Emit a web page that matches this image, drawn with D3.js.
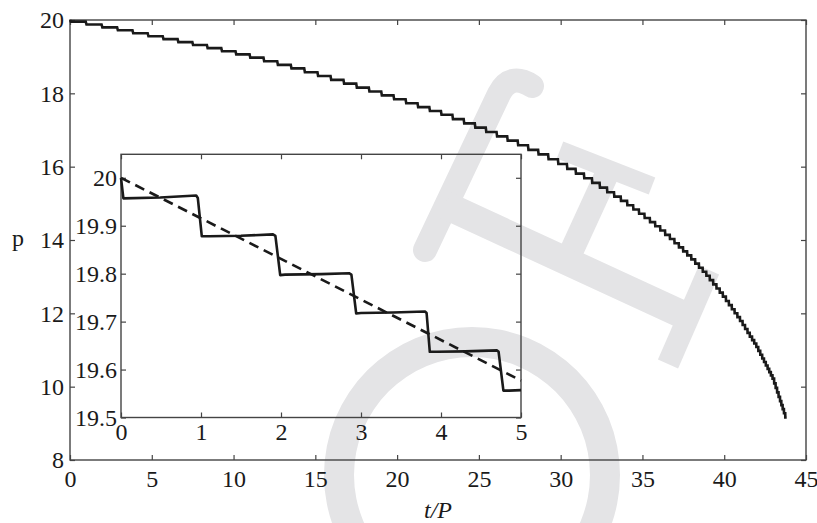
<!DOCTYPE html>
<html lang="en">
<head>
  <meta charset="UTF-8">
  <title>p vs t/P</title>
  <script src="https://d3js.org/d3.v7.min.js"></script>
  <style>
  body { margin: 0; background: #fff; }
  text { font-family: "Liberation Serif", "Times New Roman", Times, serif; fill: #1a1a1a; }
  </style>
</head>
<body>
<div id="chart"></div>
<script>

// ---- data ----

// main curve: times (t/P) at which p drops, and the level p holds after each drop
const mainStartP = 20.0;
const mainEndT = 43.82;
const mainDropT = [0, 0.96, 1.93, 2.88, 3.82, 4.75, 5.67, 6.58, 7.48, 8.37, 9.25, 10.12,
  10.98, 11.83, 12.67, 13.5, 14.32, 15.13, 15.93, 16.72, 17.5, 18.27, 19.03, 19.78,
  20.52, 21.25, 21.97, 22.68, 23.38, 24.07, 24.75, 25.42, 26.08, 26.73, 27.37, 28.0,
  28.62, 29.23, 29.83, 30.38, 30.91, 31.42, 31.91, 32.38, 32.83, 33.26, 33.67, 34.06,
  34.43, 34.78, 35.12, 35.45, 35.77, 36.08, 36.38, 36.67, 36.95, 37.22, 37.48, 37.73,
  37.98, 38.22, 38.45, 38.68, 38.9, 39.11, 39.32, 39.52, 39.72, 39.91, 40.1, 40.28,
  40.46, 40.63, 40.8, 40.96, 41.12, 41.27, 41.42, 41.56, 41.7, 41.83, 41.96, 42.08,
  42.2, 42.32, 42.43, 42.54, 42.65, 42.75, 42.85, 42.95, 43.05, 43.14, 43.23, 43.32,
  43.41, 43.49, 43.57, 43.65, 43.73];
const mainLevel = [19.957, 19.878, 19.799, 19.719, 19.638, 19.556, 19.479, 19.397, 19.317,
  19.232, 19.147, 19.063, 18.973, 18.874, 18.777, 18.680, 18.576, 18.471, 18.368, 18.265,
  18.156, 18.049, 17.943, 17.838, 17.730, 17.624, 17.519, 17.415, 17.297, 17.180, 17.065,
  16.945, 16.827, 16.710, 16.583, 16.458, 16.335, 16.203, 16.074, 15.939, 15.809, 15.684,
  15.559, 15.428, 15.302, 15.182, 15.068, 14.949, 14.830, 14.717, 14.600, 14.487, 14.376,
  14.258, 14.140, 14.026, 13.913, 13.800, 13.690, 13.582, 13.471, 13.356, 13.243, 13.133,
  13.027, 12.907, 12.791, 12.677, 12.565, 12.457, 12.338, 12.223, 12.111, 12.002, 11.897,
  11.791, 11.680, 11.572, 11.467, 11.366, 11.269, 11.176, 11.082, 10.977, 10.871, 10.770,
  10.673, 10.576, 10.484, 10.396, 10.308, 10.220, 10.090, 9.967, 9.844, 9.721, 9.605,
  9.496, 9.387, 9.277, 9.161];

// inset, solid curve (first five periods)
const insetT = [0, 0.03, 0.49, 0.94, 0.96, 1.01, 1.1, 1.5, 1.9, 1.93, 1.99, 2.05, 2.5, 2.85,
  2.88, 2.94, 3.0, 3.4, 3.8, 3.82, 3.86, 3.95, 4.3, 4.7, 4.72, 4.78, 4.85, 5.0];
const insetP = [20.0, 19.957, 19.959, 19.963, 19.958, 19.878, 19.878, 19.879, 19.882, 19.879,
  19.797, 19.798, 19.799, 19.801, 19.798, 19.717, 19.718, 19.719, 19.721, 19.718,
  19.637, 19.637, 19.638, 19.640, 19.637, 19.556, 19.556, 19.557];

// inset, dashed line
const dashT = [0, 5];
const dashP = [20.0, 19.577];

// ticks
const mainXTicks = [0, 5, 10, 15, 20, 25, 30, 35, 40, 45];
const mainYTicks = [8, 10, 12, 14, 16, 18, 20];
const insetXTicks = [0, 1, 2, 3, 4, 5];
const insetYTicks = [19.5, 19.6, 19.7, 19.8, 19.9, 20];
const insetYLabels = ["19.5", "19.6", "19.7", "19.8", "19.9", "20"];

// ---- layout ----
const W = 817, H = 523;
const main = {left: 70, right: 806, top: 20, bottom: 460};
const ins = {left: 121, right: 521, top: 154.3, bottom: 417.5};
const fontSize = 24;
const ink = "#1a1a1a";
const frame = "#444";

const svg = d3.select("#chart").append("svg")
  .attr("width", W)
  .attr("height", H);

// watermark (drawn underneath everything)
const wmColor = "#e4e4e6";
svg.append("path")
  .attr("transform", "translate(472,475)")
  .attr("fill", wmColor)
  .attr("d", d3.arc()({innerRadius: 118, outerRadius: 148, startAngle: 0, endAngle: 2 * Math.PI}));
const wm = svg.append("g").attr("fill", "none").attr("stroke", wmColor);
wm.append("path")
  .attr("d", "M425,250 L499,94 Q510,72 532,86")
  .attr("stroke-width", 24).attr("stroke-linecap", "round");
wm.append("path").attr("d", "M445,205 L690,318").attr("stroke-width", 28);
wm.append("path").attr("d", "M560,150 L652,186").attr("stroke-width", 18);
wm.append("path").attr("d", "M572,250 L606,176").attr("stroke-width", 24);
wm.append("path").attr("d", "M709,270 L668,364").attr("stroke-width", 22);

// scales
const x = d3.scaleLinear().domain([0, 45]).range([main.left, main.right]);
const y = d3.scaleLinear().domain([8, 20]).range([main.bottom, main.top]);
const xi = d3.scaleLinear().domain([0, 5]).range([ins.left, ins.right]);
const yi = d3.scaleLinear().domain([19.5, 20.049]).range([ins.bottom, ins.top]);

// axes helper
const styleAxis = (g) => {
  g.select(".domain").remove();
  g.selectAll(".tick line").attr("stroke", frame).attr("stroke-width", 1.2);
  g.selectAll("text")
    .attr("font-size", fontSize)
    .attr("fill", ink);
};

// main axes
svg.append("g").attr("transform", `translate(0,${main.bottom})`)
  .call(d3.axisBottom(x).tickValues(mainXTicks).tickSize(-5).tickPadding(10))
  .call(styleAxis);
svg.append("g").attr("transform", `translate(0,${main.top})`)
  .call(d3.axisTop(x).tickValues(mainXTicks).tickSize(-5).tickFormat(""))
  .call(styleAxis);
svg.append("g").attr("transform", `translate(${main.left},0)`)
  .call(d3.axisLeft(y).tickValues(mainYTicks).tickSize(-5).tickPadding(6))
  .call(styleAxis);
svg.append("g").attr("transform", `translate(${main.right},0)`)
  .call(d3.axisRight(y).tickValues(mainYTicks).tickSize(-5).tickFormat(""))
  .call(styleAxis);

svg.append("rect")
  .attr("x", main.left).attr("y", main.top)
  .attr("width", main.right - main.left).attr("height", main.bottom - main.top)
  .attr("fill", "none").attr("stroke", frame).attr("stroke-width", 1.4);

// axis titles
svg.append("text")
  .attr("x", (main.left + main.right) / 2).attr("y", 518)
  .attr("text-anchor", "middle")
  .attr("font-size", fontSize).attr("font-style", "italic")
  .text("t/P");
svg.append("text")
  .attr("x", 18).attr("y", 246)
  .attr("text-anchor", "middle")
  .attr("font-size", fontSize)
  .text("p");

// main staircase
const mainPts = [[0, mainStartP]];
mainDropT.forEach((t, k) => {
  const prev = k === 0 ? mainStartP : mainLevel[k - 1];
  const next = k + 1 < mainDropT.length ? mainDropT[k + 1] : mainEndT;
  mainPts.push([t, prev]);
  mainPts.push([t + 0.05 * (next - t), mainLevel[k]]);
});
mainPts.push([mainEndT, mainLevel[mainLevel.length - 1]]);

svg.append("path")
  .datum(mainPts)
  .attr("fill", "none")
  .attr("stroke", ink)
  .attr("stroke-width", 2.6)
  .attr("d", d3.line().x(d => x(d[0])).y(d => y(d[1])));

// inset axes
svg.append("g").attr("transform", `translate(0,${ins.bottom})`)
  .call(d3.axisBottom(xi).tickValues(insetXTicks).tickSize(-5).tickPadding(5)
    .tickFormat(d3.format("d")))
  .call(styleAxis);
svg.append("g").attr("transform", `translate(0,${ins.top})`)
  .call(d3.axisTop(xi).tickValues(insetXTicks).tickSize(-5).tickFormat(""))
  .call(styleAxis);
svg.append("g").attr("transform", `translate(${ins.left},0)`)
  .call(d3.axisLeft(yi).tickValues(insetYTicks).tickSize(-5).tickPadding(4)
    .tickFormat((d, i) => insetYLabels[i]))
  .call(styleAxis);
svg.append("g").attr("transform", `translate(${ins.right},0)`)
  .call(d3.axisRight(yi).tickValues(insetYTicks).tickSize(-5).tickFormat(""))
  .call(styleAxis);

svg.append("rect")
  .attr("x", ins.left).attr("y", ins.top)
  .attr("width", ins.right - ins.left).attr("height", ins.bottom - ins.top)
  .attr("fill", "none").attr("stroke", frame).attr("stroke-width", 1.4);

// inset lines
svg.append("path")
  .datum(dashT.map((t, i) => [t, dashP[i]]))
  .attr("fill", "none")
  .attr("stroke", ink)
  .attr("stroke-width", 2.6)
  .attr("stroke-dasharray", "10,6")
  .attr("d", d3.line().x(d => xi(d[0])).y(d => yi(d[1])));

svg.append("path")
  .datum(insetT.map((t, i) => [t, insetP[i]]))
  .attr("fill", "none")
  .attr("stroke", ink)
  .attr("stroke-width", 2.6)
  .attr("stroke-linejoin", "round")
  .attr("d", d3.line().x(d => xi(d[0])).y(d => yi(d[1])));

</script>
</body>
</html>
